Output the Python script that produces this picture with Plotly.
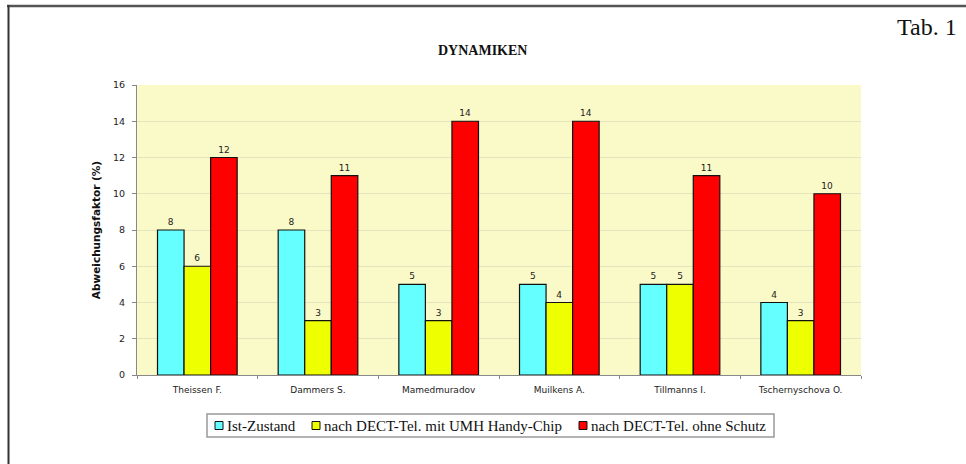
import plotly.graph_objects as go

# Patients and measured deviation factors (%) per condition
patients = ["Theissen F.", "Dammers S.", "Mamedmuradov", "Muilkens A.", "Tillmanns I.", "Tschernyschova O."]
ist_zustand = [8, 8, 5, 5, 5, 4]
mit_chip = [6, 3, 3, 4, 5, 3]
ohne_schutz = [12, 11, 14, 14, 11, 10]
y_ticks = [0, 2, 4, 6, 8, 10, 12, 14, 16]

series_names = ["Ist-Zustand", "nach DECT-Tel. mit UMH Handy-Chip", "nach DECT-Tel. ohne Schutz"]
series_values = [ist_zustand, mit_chip, ohne_schutz]
series_colors = ["#66FFFF", "#EEFF00", "#FF0000"]

fig = go.Figure()
for name, vals, color in zip(series_names, series_values, series_colors):
    fig.add_trace(go.Bar(
        x=patients, y=vals, name=name, showlegend=False,
        marker=dict(color=color, line=dict(color="#111111", width=1.2)),
        text=[str(v) for v in vals], textposition="outside",
        textfont=dict(family="DejaVu Sans", size=9, color="#222222"),
        cliponaxis=False,
    ))

# Plot area in pixels
L, R, T, B = 137, 861, 85, 375
W, H = 966, 464
pw, ph = R - L, B - T

def px_x(x):
    return (x - L) / pw

def px_y(y):
    return (B - y) / ph

shapes = [
    # page frame (top and left rules)
    dict(type="line", xref="paper", yref="paper", x0=px_x(7), x1=px_x(966), y0=px_y(6), y1=px_y(6),
         line=dict(color="#555555", width=2.5)),
    dict(type="line", xref="paper", yref="paper", x0=px_x(8.5), x1=px_x(8.5), y0=px_y(5), y1=px_y(464),
         line=dict(color="#333333", width=2)),
    # legend box
    dict(type="rect", xref="paper", yref="paper", x0=px_x(207), x1=px_x(774), y0=px_y(414), y1=px_y(437),
         line=dict(color="#999999", width=1.5), fillcolor="white"),
]
annotations = [
    dict(text="<b>DYNAMIKEN</b>", xref="paper", yref="paper", x=px_x(482), y=px_y(50),
         xanchor="center", yanchor="middle", showarrow=False,
         font=dict(family="Liberation Serif", size=14, color="#111111")),
    dict(text="Tab. 1", xref="paper", yref="paper", x=px_x(959), y=px_y(27),
         xanchor="right", yanchor="middle", showarrow=False,
         font=dict(family="Liberation Serif", size=24, color="#111111")),
]

# Legend entries: swatch + label
legend_swatch_x = [215, 312, 579]
legend_y = 425.5
for name, color, sx in zip(series_names, series_colors, legend_swatch_x):
    shapes.append(dict(type="rect", xref="paper", yref="paper",
                       x0=px_x(sx), x1=px_x(sx + 8), y0=px_y(legend_y - 4), y1=px_y(legend_y + 4),
                       line=dict(color="#111111", width=1), fillcolor=color))
    annotations.append(dict(text=name, xref="paper", yref="paper", x=px_x(sx + 10), y=px_y(legend_y),
                            xanchor="left", yanchor="middle", showarrow=False,
                            font=dict(family="Liberation Serif", size=15, color="#111111")))

fig.update_layout(
    width=W, height=H,
    margin=dict(l=L, r=W - R, t=T, b=H - B),
    paper_bgcolor="white",
    plot_bgcolor="#FAFAC8",
    barmode="group",
    bargap=0.34,
    bargroupgap=0,
    showlegend=False,
    font=dict(family="DejaVu Sans", size=9, color="#222222"),
    xaxis=dict(
        showgrid=False, showline=True, linecolor="#888888", linewidth=1,
        ticks="outside", tickson="boundaries", ticklen=3, tickcolor="#888888",
        tickfont=dict(family="DejaVu Sans", size=9, color="#222222"),
        ticklabelstandoff=6,
    ),
    yaxis=dict(
        range=[0, 16], tickvals=y_ticks, showgrid=True, gridcolor="#E4E4BE", gridwidth=1,
        showline=True, linecolor="#888888", linewidth=1,
        ticks="outside", ticklen=4, tickcolor="#888888",
        tickfont=dict(family="DejaVu Sans", size=9.5, color="#222222"),
        ticklabelstandoff=5,
        title=dict(text="<b>Abweichungsfaktor (%)</b>",
                   font=dict(family="DejaVu Sans", size=10.5, color="#111111"), standoff=10),
        zeroline=False,
    ),
    annotations=annotations,
    shapes=shapes,
)

fig.write_html("out.html")
